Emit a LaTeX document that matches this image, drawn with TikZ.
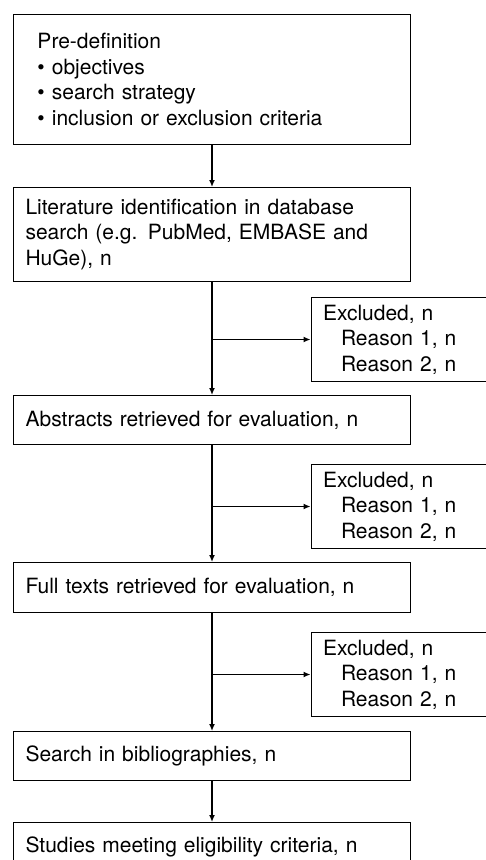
\documentclass[tikz,border=0pt]{standalone}
\usepackage{fontspec}
\setmainfont{TeX Gyre Heros}
\usetikzlibrary{positioning,arrows.meta}

\tikzset{
  flowbox/.style = {draw, line width=1pt, text width=373pt, inner xsep=12pt, inner ysep=0pt,
    align=left, font=\fontsize{21}{25.5}\selectfont},
  exbox/.style = {flowbox, text width=161pt, minimum height=84pt},
  flow/.style = {line width=1.3pt, -{Latex[length=7pt,width=6pt]}},
}

\begin{document}
\begin{tikzpicture}
  \useasboundingbox (0,0) rectangle (486pt,-860pt);

  \node[flowbox, anchor=north west, inner xsep=24pt, text width=349pt, minimum height=130pt] (pre) at (13pt,-14pt)
    {Pre-definition\\ \textbullet\ objectives\\ \textbullet\ search strategy\\ \textbullet\ inclusion or exclusion criteria};
  \node[flowbox, below=42pt of pre, minimum height=94pt] (lit)
    {Literature identification in database\\ search (e.g. PubMed, EMBASE and\\ HuGe), n};
  \node[flowbox, below=113pt of lit, minimum height=49pt] (abs) {Abstracts retrieved for evaluation, n};
  \node[flowbox, below=117pt of abs, minimum height=50pt] (full) {Full texts retrieved for evaluation, n};
  \node[flowbox, below=118pt of full, minimum height=49pt] (bib) {Search in bibliographies, n};
  \node[flowbox, below=41pt of bib, minimum height=48pt] (elig) {Studies meeting eligibility criteria, n};

  \node[exbox, anchor=north west] (ex1) at ([xshift=98.5pt, yshift=-15pt]lit.south)
    {Excluded, n\\ \hspace*{18pt}Reason 1, n\\ \hspace*{18pt}Reason 2, n};
  \node[exbox, anchor=north west] (ex2) at ([xshift=98.5pt, yshift=-19pt]abs.south)
    {Excluded, n\\ \hspace*{18pt}Reason 1, n\\ \hspace*{18pt}Reason 2, n};
  \node[exbox, anchor=north west] (ex3) at ([xshift=98.5pt, yshift=-19pt]full.south)
    {Excluded, n\\ \hspace*{18pt}Reason 1, n\\ \hspace*{18pt}Reason 2, n};

  \draw[flow] (pre) -- (lit);
  \draw[flow] (lit) -- (abs);
  \draw[flow] (abs) -- (full);
  \draw[flow] (full) -- (bib);
  \draw[flow] (bib) -- (elig);

  \draw[flow] (lit.south |- ex1.west) -- (ex1.west);
  \draw[flow] (abs.south |- ex2.west) -- (ex2.west);
  \draw[flow] (full.south |- ex3.west) -- (ex3.west);
\end{tikzpicture}
\end{document}
